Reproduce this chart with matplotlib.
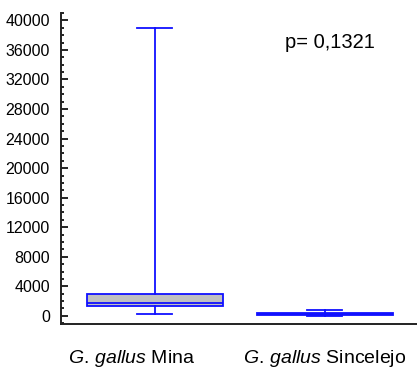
import matplotlib
matplotlib.use("Agg")
import matplotlib.pyplot as plt
from matplotlib.transforms import ScaledTranslation
from matplotlib.ticker import MultipleLocator

plt.rcParams['font.family'] = ['Liberation Sans', 'DejaVu Sans']
plt.rcParams['mathtext.fontset'] = 'custom'
plt.rcParams['mathtext.rm'] = 'Liberation Sans'
plt.rcParams['mathtext.it'] = 'Liberation Sans:italic'

# data
categories = [r"$\it{G.\,gallus}$ Mina", r"$\it{G.\,gallus}$ Sincelejo"]
whislo = [300, 30]
q1 = [1300, 150]
med = [1800, 300]
q3 = [2900, 450]
whishi = [39000, 850]
p_text = "p= 0,1321"
yticks = list(range(0, 40001, 4000))

stats = []
for i in range(len(categories)):
    stats.append(dict(label=categories[i], whislo=whislo[i], q1=q1[i], med=med[i],
                      q3=q3[i], whishi=whishi[i], fliers=[]))

fig = plt.figure(figsize=(4.17, 3.71), dpi=100)
ax = fig.add_axes([61/417, 1-324/371, (418-61)/417, (324-13)/371])

blue = '#1010ff'
ax.bxp(stats, positions=[1, 2], widths=0.8, patch_artist=True, showfliers=False,
       boxprops=dict(facecolor='#c0c0c0', edgecolor=blue, linewidth=1.3),
       medianprops=dict(color=blue, linewidth=1.3),
       whiskerprops=dict(color=blue, linewidth=1.3),
       capprops=dict(color=blue, linewidth=1.3), capwidths=0.21)

ax.set_xlim(0.45, 2.55)
ax.set_ylim(-1100, 41000)
ax.set_yticks(yticks)
ax.yaxis.set_minor_locator(MultipleLocator(1000))
ax.tick_params(axis='y', which='major', direction='in', length=5, width=1.2, pad=8,
               labelsize=10.5)
ax.tick_params(axis='y', which='minor', direction='in', length=2.5, width=1.2)
ax.tick_params(axis='x', length=0, pad=17, labelsize=14)
for lab in ax.get_yticklabels():
    lab.set_fontfamily(['Liberation Sans Narrow', 'Liberation Sans'])
    lab.set_fontsize(11.5)

for s in ['top', 'right']:
    ax.spines[s].set_visible(False)
for s in ['left', 'bottom']:
    ax.spines[s].set_color('#222222')
    ax.spines[s].set_linewidth(1.4)

xl = ax.get_xticklabels()
xl[0].set_transform(xl[0].get_transform() + ScaledTranslation(-0.23, 0, fig.dpi_scale_trans))

ax.text(2.03, 36200, p_text, ha='center', va='baseline', fontsize=14.5)

fig.savefig("out.png", dpi=100)
